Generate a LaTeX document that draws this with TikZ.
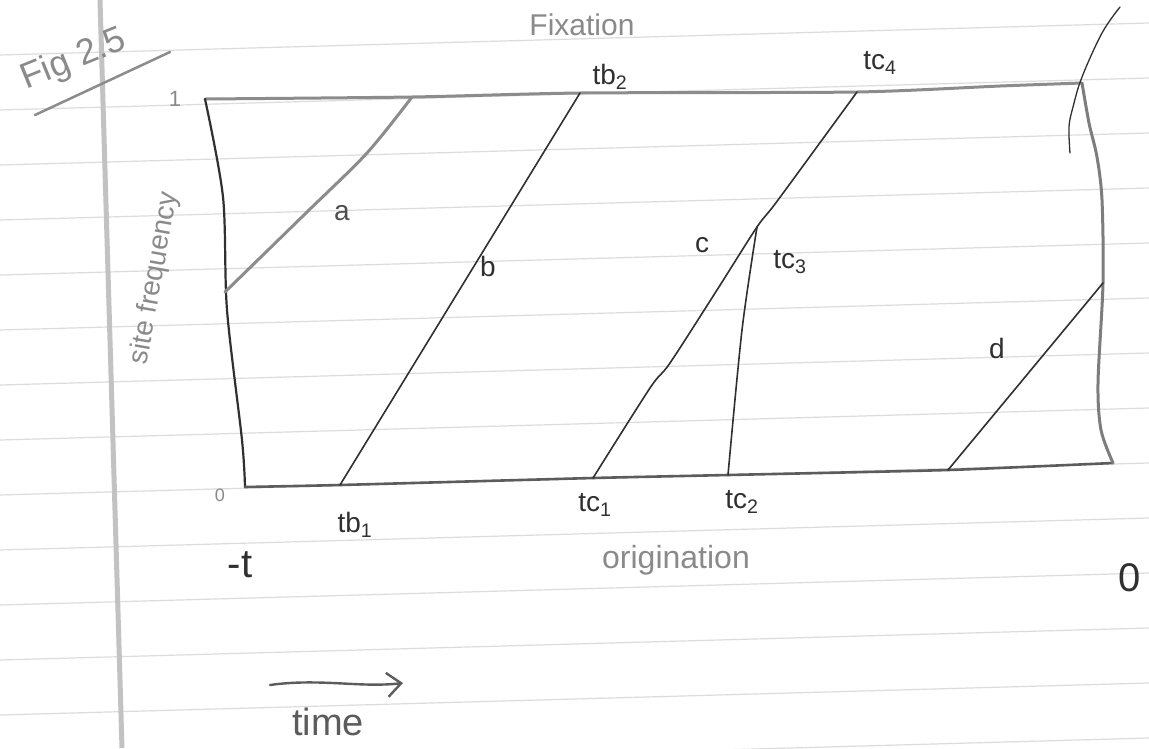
\documentclass[tikz,border=0pt]{standalone}
\usepackage{fontspec}
\setmainfont{Liberation Sans}
\usetikzlibrary{arrows.meta}
\definecolor{pencilgray}{HTML}{8C8C8C}
\definecolor{inkdark}{HTML}{303030}
\definecolor{edgegray}{HTML}{5C5C5C}
\definecolor{rulegray}{HTML}{DCDCDC}
\definecolor{margingray}{HTML}{C2C2C2}
\definecolor{textgray}{HTML}{8A8A8A}
\begin{document}
\begin{tikzpicture}[x=1pt,y=-1pt,
  ruled/.style={draw=rulegray, line width=1.2pt},
  margin/.style={draw=margingray, line width=5pt},
  pencil/.style={draw=pencilgray, line width=3pt, line cap=round, line join=round},
  edgedark/.style={draw=edgegray, line width=2.6pt, line cap=round, line join=round},
  ink/.style={draw=inkdark, line width=1.6pt, line cap=round, line join=round},
  graytext/.style={text=textgray, inner sep=0pt},
  darktext/.style={text=inkdark, inner sep=0pt},
  lbl/.style={darktext, font=\fontsize{28}{30}\selectfont},
]
\useasboundingbox[fill=white] (0,0) rectangle (1149,748);

% ruled paper
\foreach \k in {1,...,14} \draw[ruled] (0,55*\k) -- (1149,55*\k-32);
\draw[margin] (100,0) -- (122,748);

% box corners and points
\coordinate (tl) at (205,99);
\coordinate (tr) at (1082,83);
\coordinate (br) at (1113,463);
\coordinate (bl) at (245,487);

\coordinate (a0) at (225,292);
\coordinate (a1) at (412,97);
\coordinate (b0) at (340,485);
\coordinate (b1) at (580,93);
\coordinate (c0) at (593,478);
\coordinate (c1) at (857,92);
\coordinate (c3) at (757,227);
\coordinate (e0) at (728,475);
\coordinate (d0) at (948,470);
\coordinate (d1) at (1103,283);

% box edges
\draw[pencil] plot[smooth, tension=0.4] coordinates {(tl) (a1) (b1) (c1) (1000,86) (tr)};
\draw[ink, line width=2.2pt] plot[smooth, tension=0.5] coordinates {(tl) (223,197) (227,310) (242,440) (bl)};
\draw[edgedark] plot[smooth, tension=0.3] coordinates {(bl) (b0) (c0) (e0) (d0) (br)};
\draw[pencil, draw=edgegray!80] plot[smooth, tension=0.5] coordinates {(tr) (1089,123) (1097,157) (1102,200) (d1) (1098,383) (1101,430) (br)};

% arc at top right
\draw[ink, line width=1.3pt] plot[smooth, tension=0.6] coordinates {(1120,7) (1102,33) (1082,77) (1073,107) (1069,127) (1070,153)};

% lineages
\draw[pencil] plot[smooth, tension=0.5] coordinates {(a0) (307,212) (367,153) (a1)};
\draw[ink] (b0) -- (b1);
\draw[ink] plot[smooth, tension=0.5] coordinates {(c0) (650,388) (670,363) (717,290) (c3) (778,200) (c1)};
\draw[ink] plot[smooth, tension=0.5] coordinates {(c3) (742,330) (e0)};
\draw[ink] (d0) -- (d1);

% Fig underline
\coordinate (u0) at (35,115);
\coordinate (u1) at (170,52);
\draw[pencil, line width=2.5pt] (u0) -- (u1);

% time arrow
\coordinate (t0) at (270,685);
\coordinate (t1) at (403,683);
\draw[edgedark, line width=2.4pt, -{Straight Barb[length=14pt, width=24pt, line width=2.4pt]}]
  (t0) .. controls (320,678) and (360,688) .. (t1);

% texts
\node[graytext, rotate=22, font=\fontsize{36}{38}\selectfont] (fig) at (74,60) {Fig 2.5};
\node[graytext, font=\fontsize{30}{32}\selectfont] (fix) at (582,25) {Fixation};
\node[graytext, rotate=80, font=\fontsize{28}{30}\selectfont] (sf) at (155,278) {site frequency};
\node[graytext, font=\fontsize{32}{34}\selectfont] (orig) at (676,560) {origination};
\node[graytext, font=\fontsize{22}{24}\selectfont] (one) at (175,99) {1};
\node[graytext, font=\fontsize{18}{20}\selectfont] (zero) at (220,495) {0};
\node[darktext, font=\fontsize{40}{42}\selectfont] (tnow) at (1130,578) {0};
\node[darktext, font=\fontsize{40}{42}\selectfont] (mt) at (240,565) {-t};
\node[darktext, text=edgegray, font=\fontsize{38}{40}\selectfont] (time) at (328,722) {time};

\node[lbl] (tb2) at (610,77) {tb\textsubscript{2}};
\node[lbl] (tc4) at (880,63) {tc\textsubscript{4}};
\node[lbl] (tb1) at (355,525) {tb\textsubscript{1}};
\node[lbl] (tc1) at (595,505) {tc\textsubscript{1}};
\node[lbl] (tc2) at (742,502) {tc\textsubscript{2}};
\node[lbl] (tc3) at (790,262) {tc\textsubscript{3}};

\node[lbl, text=inkdark!85] (la) at (342,213) {a};
\node[lbl] (lb) at (488,266) {b};
\node[lbl] (lc) at (702,245) {c};
\node[lbl] (ld) at (997,348) {d};
\end{tikzpicture}
\end{document}
